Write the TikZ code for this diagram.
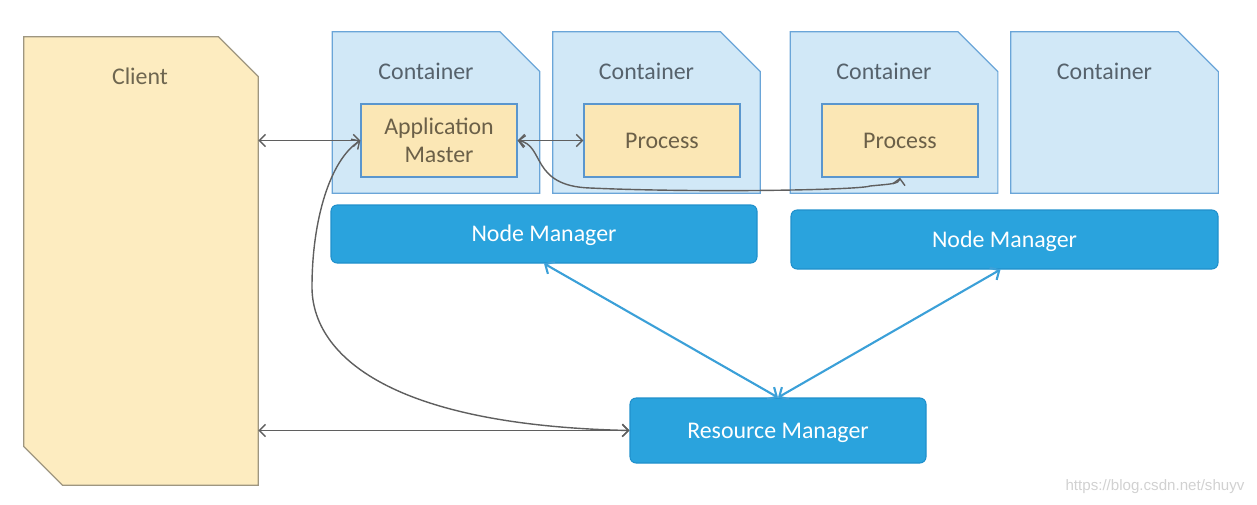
\documentclass[tikz,border=0pt]{standalone}
\usepackage{fontspec}
\setmainfont{Carlito}
\newfontfamily\wmfont{Liberation Sans}
\usetikzlibrary{arrows.meta,calc}
\definecolor{clientfill}{HTML}{FDECC0}
\definecolor{clientdraw}{HTML}{9E9680}
\definecolor{clienttext}{HTML}{6E6650}
\definecolor{contfill}{HTML}{D1E8F7}
\definecolor{contdraw}{HTML}{6AA5D8}
\definecolor{conttext}{HTML}{56626C}
\definecolor{innerfill}{HTML}{FBE7B5}
\definecolor{innerdraw}{HTML}{5A96CE}
\definecolor{innertext}{HTML}{6B6048}
\definecolor{mgrfill}{HTML}{2AA3DD}
\definecolor{mgrdraw}{HTML}{2090CC}
\definecolor{conncol}{HTML}{5F5F5F}
\definecolor{bluecol}{HTML}{3BA0D8}
\def\PX{0.02cm}
\begin{document}
\begin{tikzpicture}[x=0.02cm,y=-0.02cm,
  font=\fontsize{13.6}{16}\selectfont,
  hidden/.style={draw=none,fill=none,inner sep=0pt},
  inner/.style={draw=innerdraw,fill=innerfill,line width=0.7pt,inner sep=0pt,
    minimum width=156*\PX,minimum height=73*\PX,text=innertext,align=center},
  mgr/.style={draw=mgrdraw,fill=mgrfill,line width=0.6pt,rounded corners=3.5pt,
    text=white,inner sep=0pt,text height=9pt,text depth=0pt},
  conn/.style={draw=conncol,line width=0.8pt,
    {Straight Barb[length=3.5pt,width=7pt]}-{Straight Barb[length=3.5pt,width=7pt]}},
  bconn/.style={draw=bluecol,line width=1.2pt,
    {Straight Barb[length=4pt,width=8pt]}-{Straight Barb[length=4pt,width=8pt]}},
  lbl/.style={text=conttext,inner sep=0pt,text height=9pt,text depth=0pt},
  chamf/.style={draw=contdraw,fill=contfill,line width=0.7pt}]
\useasboundingbox (0,0) rectangle (1257,504);

% Client
\node[hidden,minimum width=234*\PX,minimum height=448*\PX] (client) at (141,261) {};
\draw[draw=clientdraw,fill=clientfill,line width=0.7pt]
  (client.north west) -- ($(client.north east)+(-40,0)$) -- ($(client.north east)+(0,40)$)
  -- (client.south east) -- ($(client.south west)+(39,0)$) -- ($(client.south west)+(0,-39)$) -- cycle;
\node[text=clienttext,inner sep=0pt,text height=9pt,text depth=0pt] (clientl) at ($(client.north)+(-1,40)$) {Client};

% Containers
\foreach \n/\cx in {c1/436,c2/656.5,c3/894,c4/1114.5}{
  \node[hidden,minimum width=207*\PX,minimum height=161*\PX] (\n) at (\cx,112.5) {};
  \draw[chamf] (\n.north west) -- ($(\n.north east)+(-40,0)$) -- ($(\n.north east)+(0,40)$)
    -- (\n.south east) -- (\n.south west) -- cycle;
  \node[lbl] (\n-l) at ($(\n.north)+(-10,40)$) {Container};
}

% Inner boxes
\node[inner] (am) at (439,140.5) {Application\\Master};
\node[inner] (p1) at (662,140.5) {Process};
\node[inner] (p2) at (900,140.5) {Process};

% Managers
\node[mgr,minimum width=426*\PX,minimum height=58*\PX] (nm1) at (544,234) {Node Manager};
\node[mgr,minimum width=427*\PX,minimum height=59*\PX] (nm2) at (1004.5,239.5) {Node Manager};
\node[mgr,minimum width=296*\PX,minimum height=65*\PX] (rm) at (778,430.5) {Resource Manager};

% Connectors
\draw[conn] (am.west -| client.east) -- (am.west);
\draw[conn] (am.east) -- (p1.west);
\draw[conn] (rm.west -| client.east) -- (rm.west);
\draw[conn] (am.west) .. controls (330,160) and (312,220) .. (312,287)
  .. controls (312,350) and (380,425) .. (rm.west);
\draw[conn] (am.east) .. controls (545,145) and (530,186) .. (590,188)
  .. controls (700,193) and (860,190) .. (870,186) .. controls (890,184) and (899,184) .. (p2.south);
\draw[bconn] (nm1.south) -- (rm.north);
\draw[bconn] ($(nm2.south)+(-4,0)$) -- (rm.north);

% Watermark
\node[text=black!18,font=\wmfont\fontsize{8.6}{10}\selectfont,inner sep=0pt] (wm) at (1155,487) {https://blog.csdn.net/shuyv};
\end{tikzpicture}
\end{document}
